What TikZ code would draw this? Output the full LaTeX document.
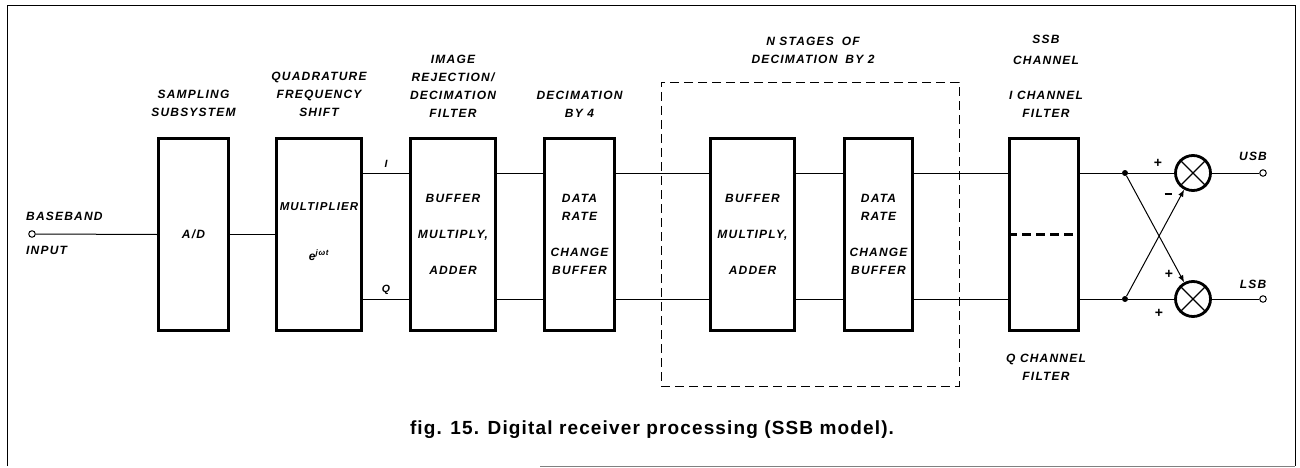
\documentclass[tikz,border=0pt]{standalone}
\usepackage{fontspec}
\setmainfont{Liberation Sans}
\newfontfamily\lblf[LetterSpace=10]{Liberation Sans}
\newfontfamily\capf[LetterSpace=6]{Liberation Sans}
\usetikzlibrary{arrows.meta}
\begin{document}
\begin{tikzpicture}[x=1pt,y=-1pt,
  blk/.style={draw, line width=2.8pt, inner sep=0pt, minimum height=192pt},
  lbl/.style={font=\lblf\bfseries\itshape\fontsize{12}{18}\selectfont, align=center, inner sep=0pt},
  wire/.style={line width=1pt},
  mult/.style={circle, draw, line width=2.8pt, minimum size=35pt, inner sep=0pt},
  xline/.style={line width=1.3pt},
  port/.style={circle, draw, line width=1pt, minimum size=6.5pt, inner sep=0pt, fill=white},
  junc/.style={circle, fill, minimum size=6pt, inner sep=0pt},
  tip/.style={-{Latex[length=7pt,width=5.5pt]}},
  sgn/.style={inner sep=0pt, font=\bfseries\fontsize{14}{14}\selectfont}
  ]
\useasboundingbox (0,0) rectangle (1300,468);
% frame
\draw[line width=1pt] (7,466) -- (7,6) -- (1295,6) -- (1295,466);
\draw[line width=0.8pt, gray] (540,466) -- (1295,466);

% helper levels
\coordinate (yi) at (0,173);
\coordinate (yq) at (0,299);

% dashed group
\node[draw, line width=0.8pt, dash pattern=on 9pt off 5pt, minimum width=298pt, minimum height=304pt, inner sep=0pt] (grp) at (810,234) {};

% blocks
\node[blk, minimum width=70pt] (ad) at (193.5,234.5) {};
\node[blk, minimum width=85pt] (mul) at (319,234.5) {};
\node[blk, minimum width=85pt] (irf) at (453,234.5) {};
\node[blk, minimum width=70pt] (d4) at (579.5,234.5) {};
\node[blk, minimum width=84pt] (bma) at (752.5,234.5) {};
\node[blk, minimum width=68pt] (drc) at (878.5,234.5) {};
\node[blk, minimum width=69pt] (ssb) at (1044,234.5) {};
\draw[line width=2.8pt, dash pattern=on 9pt off 5pt] (ssb.west) -- (ssb.east);

% block texts
\node[lbl] (tad) at (193.5,234) {A/D};
\node[lbl, font=\lblf\bfseries\itshape\fontsize{11.5}{18}\selectfont] (tmul1) at (319,207) {MULTIPLIER};
\node[lbl] (tmul2) at (319,255) {e\textsuperscript{jωt}};
\node[lbl] (tirf) at (453,234) {BUFFER\\[18pt]MULTIPLY,\\[18pt]ADDER};
\node[lbl] (td4) at (579.5,234) {DATA\\RATE\\[18pt]CHANGE\\BUFFER};
\node[lbl] (tbma) at (752.5,234) {BUFFER\\[18pt]MULTIPLY,\\[18pt]ADDER};
\node[lbl] (tdrc) at (878.5,234) {DATA\\RATE\\[18pt]CHANGE\\BUFFER};

% headings
\node[lbl] (h1) at (193.5,103) {SAMPLING\\SUBSYSTEM};
\node[lbl] (h2) at (319,94) {QUADRATURE\\FREQUENCY\\SHIFT};
\node[lbl] (h3) at (453,86) {IMAGE\\REJECTION/\\DECIMATION\\FILTER};
\node[lbl] (h4) at (579.5,104) {DECIMATION\\BY 4};
\node[lbl] (h5) at (813,50.5) {N STAGES\hspace{8pt}OF\\DECIMATION\hspace{8pt}BY 2};
\node[lbl] (h6) at (1046,49.5) {SSB\\[3pt]CHANNEL};
\node[lbl] (h7) at (1046,104) {I CHANNEL\\FILTER};
\node[lbl] (h8) at (1046,367) {Q CHANNEL\\FILTER};

% input
\node[port] (in) at (32,234) {};
\node[lbl, anchor=west] (tbb) at (26,216) {BASEBAND};
\node[lbl, anchor=west] (tin) at (26,250) {INPUT};
\draw[wire] (in.east) -- (ad.west);
\draw[wire] (ad.east) -- (mul.west);

% I/Q wires
\foreach \a/\b in {mul/irf, irf/d4, d4/bma, bma/drc, drc/ssb}{
  \draw[wire] (\a.east |- yi) -- (\b.west |- yi);
  \draw[wire] (\a.east |- yq) -- (\b.west |- yq);
}
\node[lbl, font=\lblf\bfseries\itshape\fontsize{10.5}{12}\selectfont] (ti) at (386,164) {I};
\node[lbl, font=\lblf\bfseries\itshape\fontsize{10.5}{12}\selectfont] (tq) at (386,290) {Q};

% SSB combiner
\node[junc] (j1) at (1125,173) {};
\node[junc] (j2) at (1125,299) {};
\node[mult] (m1) at (1193,173) {};
\node[mult] (m2) at (1193,299) {};
\draw[xline] (m1.45) -- (m1.225) (m1.135) -- (m1.315);
\draw[xline] (m2.45) -- (m2.225) (m2.135) -- (m2.315);
\node[port] (o1) at (1263,173) {};
\node[port] (o2) at (1263,299) {};

\draw[wire] (ssb.east |- yi) -- (j1) -- (m1.west);
\draw[wire] (ssb.east |- yq) -- (j2) -- (m2.west);
\draw[wire, tip] (j1) -- (m2.118);
\draw[wire, tip] (j2) -- (m1.242);
\draw[wire] (m1.east) -- (o1.west);
\draw[wire] (m2.east) -- (o2.west);

\node[lbl] (tusb) at (1253,156) {USB};
\node[lbl] (tlsb) at (1253,284) {LSB};
\node[sgn] (p1) at (1158,163) {+};
\node[sgn] (p2) at (1168,194) {\rule{7pt}{1.8pt}};
\node[sgn] (p3) at (1169,274) {+};
\node[sgn] (p4) at (1159,313) {+};

% caption
\node[inner sep=0pt, font=\capf\bfseries\fontsize{19}{22}\selectfont] (cap) at (652,430) {fig. 15. Digital receiver processing (SSB model).};
\end{tikzpicture}
\end{document}
